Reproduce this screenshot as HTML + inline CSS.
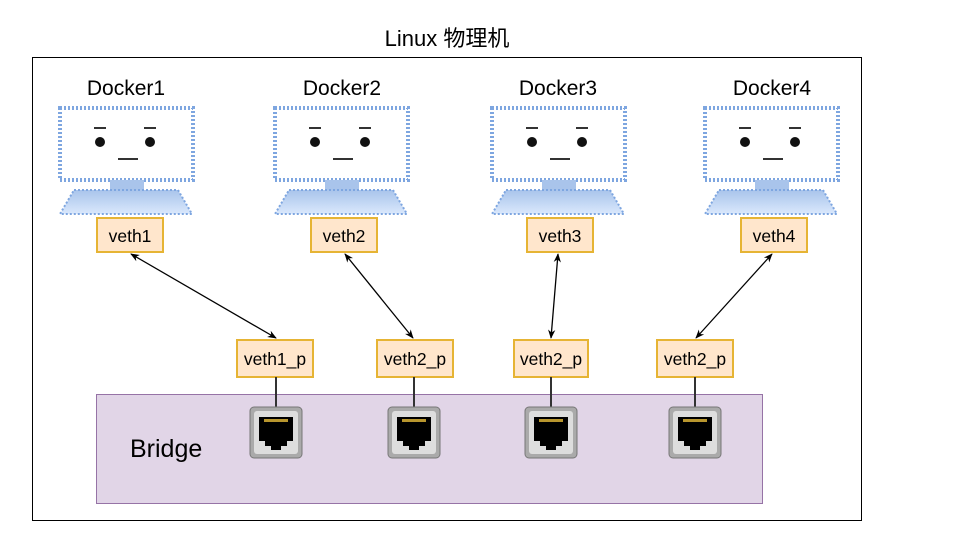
<!DOCTYPE html>
<html><head><meta charset="utf-8"><style>body{margin:0;background:#fff}svg{display:block}text{font-family:"Liberation Sans","Noto Sans CJK SC",sans-serif}</style></head><body>
<svg width="959" height="545" viewBox="0 0 959 545">
<defs>
<linearGradient id="g" x1="0" y1="0" x2="0" y2="1"><stop offset="0" stop-color="#a9c4eb"/><stop offset="1" stop-color="#dae8fc"/></linearGradient>
<marker id="a" viewBox="0 0 10 10" refX="9" refY="5" markerWidth="7" markerHeight="7" orient="auto-start-reverse"><path d="M0,1 L10,5 L0,9 L3,5z" fill="#000"/></marker>
<g id="mon">
<rect x="2" y="2" width="133" height="72" fill="#fff" stroke="#7ea6e0" stroke-width="4" stroke-dasharray="2 2"/>
<rect x="8" y="8" width="121" height="60" fill="#fff"/>
<line x1="36" y1="22" x2="48" y2="22" stroke="#333" stroke-width="2"/>
<line x1="86" y1="22" x2="98" y2="22" stroke="#333" stroke-width="2"/>
<circle cx="42" cy="36" r="5" fill="#111"/><circle cx="92" cy="36" r="5" fill="#111"/>
<line x1="60" y1="53" x2="80" y2="53" stroke="#333" stroke-width="2"/>
<rect x="52" y="74" width="34" height="10" fill="#a9c4eb"/>
<path d="M16,84 L120,84 L134,108 L2,108 Z" fill="url(#g)" stroke="#7ea6e0" stroke-width="2" stroke-dasharray="2 2"/>
</g>
<g id="port">
<rect x="0" y="0" width="52" height="51" rx="4" fill="#aaa" stroke="#777"/>
<rect x="4" y="4" width="44" height="43" rx="3" fill="#ddd"/>
<path d="M9,10 H43 V34 H37 V39 H31 V43 H21 V39 H15 V34 H9 Z" fill="#000"/>
<rect x="14" y="12" width="24" height="3" fill="#b8962e"/>
</g>
</defs>
<text x="447" y="46" font-size="22" text-anchor="middle">Linux 物理机</text>
<rect x="32.5" y="57.5" width="829" height="463" fill="none" stroke="#000"/>
<g font-size="21" text-anchor="middle">
<text x="126" y="95">Docker1</text><text x="342" y="95">Docker2</text><text x="558" y="95">Docker3</text><text x="772" y="95">Docker4</text>
</g>
<use href="#mon" x="58" y="106"/><use href="#mon" x="273" y="106"/><use href="#mon" x="490" y="106"/><use href="#mon" x="703" y="106"/>
<rect x="96.5" y="394.5" width="666" height="109" fill="#e1d5e7" stroke="#9673a6"/>
<text x="130" y="457" font-size="25">Bridge</text>
<g fill="#ffe6cc" stroke="#e6b434" stroke-width="2">
<rect x="97" y="218" width="66" height="34"/><rect x="311" y="218" width="66" height="34"/><rect x="527" y="218" width="66" height="34"/><rect x="741" y="218" width="66" height="34"/>
<rect x="237" y="340" width="76" height="37"/><rect x="377" y="340" width="76" height="37"/><rect x="514" y="340" width="74" height="37"/><rect x="657" y="340" width="76" height="37"/>
</g>
<g font-size="17.5" text-anchor="middle">
<text x="130" y="242">veth1</text><text x="344" y="242">veth2</text><text x="560" y="242">veth3</text><text x="774" y="242">veth4</text>
<text x="275" y="365">veth1_p</text><text x="415" y="365">veth2_p</text><text x="551" y="365">veth2_p</text><text x="695" y="365">veth2_p</text>
</g>
<g stroke="#000" stroke-width="1.3" marker-start="url(#a)" marker-end="url(#a)">
<line x1="131" y1="254" x2="276" y2="338"/><line x1="345" y1="254" x2="413" y2="338"/><line x1="558" y1="254" x2="551" y2="338"/><line x1="772" y1="254" x2="696" y2="338"/>
</g>
<g stroke="#333" stroke-width="2">
<line x1="276" y1="377" x2="276" y2="408"/><line x1="414" y1="377" x2="414" y2="408"/><line x1="551" y1="377" x2="551" y2="408"/><line x1="695" y1="377" x2="695" y2="408"/>
</g>
<use href="#port" x="250" y="407"/><use href="#port" x="388" y="407"/><use href="#port" x="525" y="407"/><use href="#port" x="669" y="407"/>
</svg>
</body></html>
